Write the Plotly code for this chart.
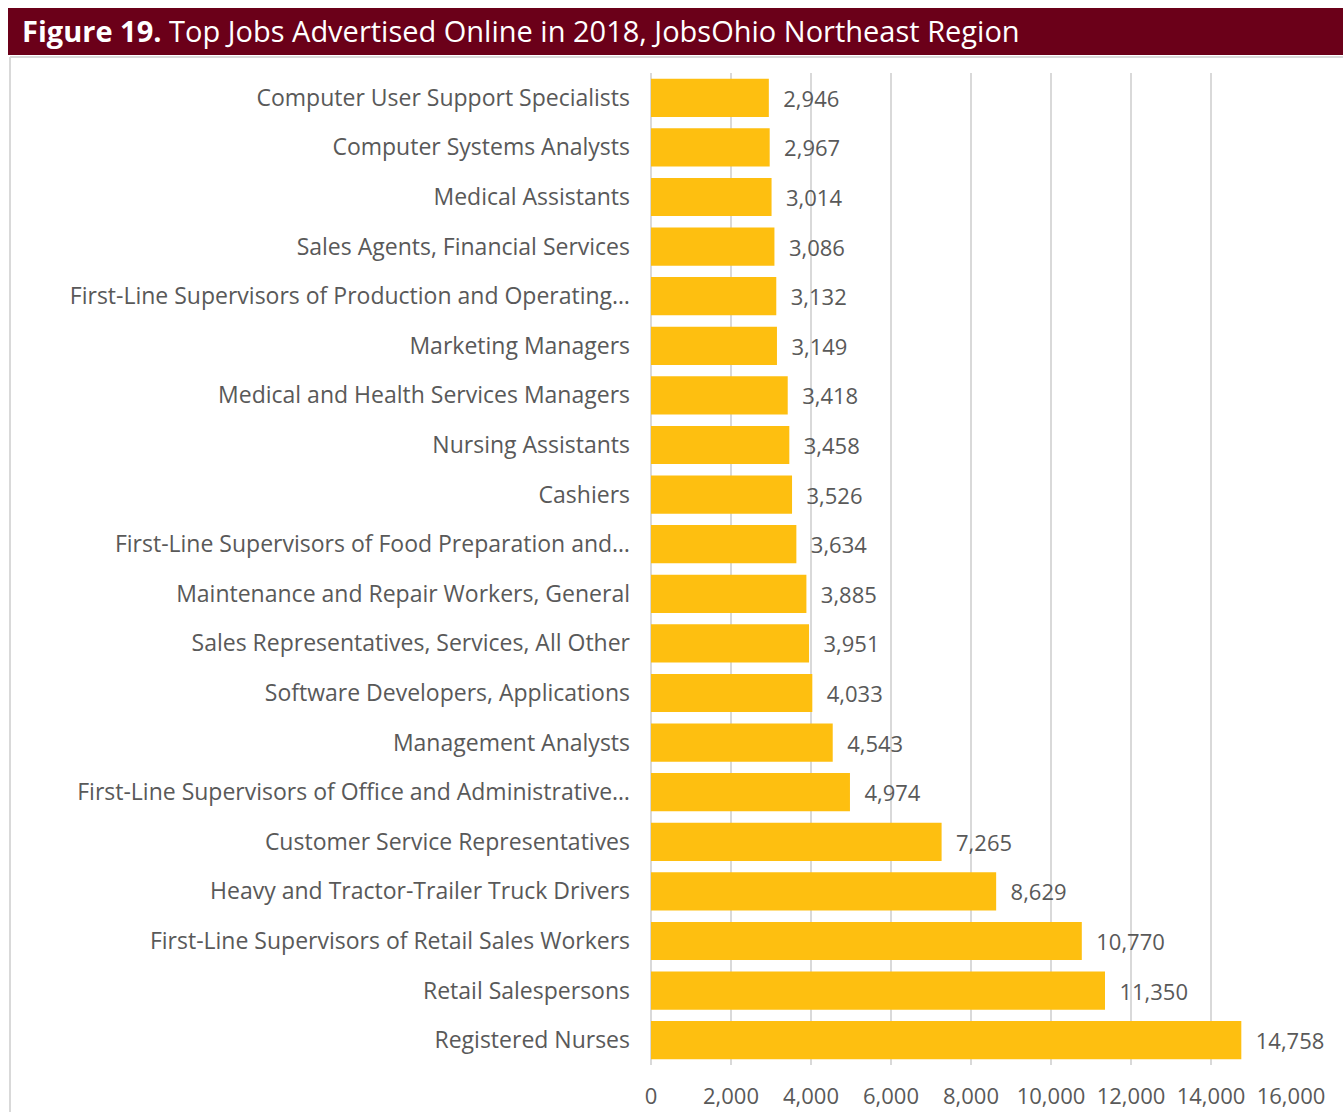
import plotly.graph_objects as go

categories = [
    "Computer User Support Specialists",
    "Computer Systems Analysts",
    "Medical Assistants",
    "Sales Agents, Financial Services",
    "First-Line Supervisors of Production and Operating…",
    "Marketing Managers",
    "Medical and Health Services Managers",
    "Nursing Assistants",
    "Cashiers",
    "First-Line Supervisors of Food Preparation and…",
    "Maintenance and Repair Workers, General",
    "Sales Representatives, Services, All Other",
    "Software Developers, Applications",
    "Management Analysts",
    "First-Line Supervisors of Office and Administrative…",
    "Customer Service Representatives",
    "Heavy and Tractor-Trailer Truck Drivers",
    "First-Line Supervisors of Retail Sales Workers",
    "Retail Salespersons",
    "Registered Nurses",
]
values = [2946, 2967, 3014, 3086, 3132, 3149, 3418, 3458, 3526, 3634,
          3885, 3951, 4033, 4543, 4974, 7265, 8629, 10770, 11350, 14758]
x_ticks = [0, 2000, 4000, 6000, 8000, 10000, 12000, 14000, 16000]

W, H = 1343, 1112
L, R, T, B = 651, 52, 73, 47
pw, ph = W - L - R, H - T - B

def px_x(p):
    return (p - L) / pw

def px_y(p):
    return (H - B - p) / ph

FONT = "Open Sans"
GRAY = "#595959"

fig = go.Figure(go.Bar(
    x=values, y=categories, orientation="h",
    marker=dict(color="#FEBF10", line=dict(width=0)),
    width=0.77,
    text=values,
    texttemplate="\u00a0\u00a0%{x:,}",
    textposition="outside",
    textfont=dict(family=FONT, size=22, color=GRAY),
    cliponaxis=False,
))

fig.update_layout(
    width=W, height=H,
    margin=dict(l=L, r=R, t=T, b=B, autoexpand=False),
    paper_bgcolor="white", plot_bgcolor="white",
    showlegend=False,
    font=dict(family=FONT, color=GRAY),
    title=dict(
        text="<b>Figure 19.</b> Top Jobs Advertised Online in 2018, JobsOhio Northeast Region",
        xref="container", yref="container",
        x=22 / W, xanchor="left",
        y=1 - 32 / H, yanchor="middle",
        font=dict(family=FONT, size=29, color="white"),
    ),
    xaxis=dict(
        range=[0, 16000], tickvals=x_ticks, tickformat=",",
        showgrid=True, gridcolor="#D9D9D9", gridwidth=2,
        zeroline=True, zerolinecolor="#D9D9D9", zerolinewidth=2,
        showline=False, ticks="",
        tickfont=dict(family=FONT, size=22, color=GRAY),
        ticklabelstandoff=16,
        automargin=False,
        fixedrange=True,
    ),
    yaxis=dict(
        autorange="reversed",
        showgrid=False, showline=False, ticks="",
        tickfont=dict(family=FONT, size=23, color=GRAY),
        ticklabelstandoff=20,
        automargin=False,
        fixedrange=True,
    ),
    shapes=[
        dict(type="rect", xref="paper", yref="paper",
             x0=px_x(8), x1=px_x(W), y0=px_y(55), y1=px_y(8),
             fillcolor="#6B0019", line=dict(width=0), layer="below"),
        dict(type="line", xref="paper", yref="paper",
             x0=px_x(10), x1=px_x(W), y0=px_y(57), y1=px_y(57),
             line=dict(color="#D9D9D9", width=2)),
        dict(type="line", xref="paper", yref="paper",
             x0=px_x(10), x1=px_x(10), y0=px_y(57), y1=px_y(H),
             line=dict(color="#D9D9D9", width=2)),
    ],
)

fig.write_html(
    "out.html",
    config={"displayModeBar": False},
    post_script="document.body.style.margin='0';document.body.style.overflow='hidden';",
)
